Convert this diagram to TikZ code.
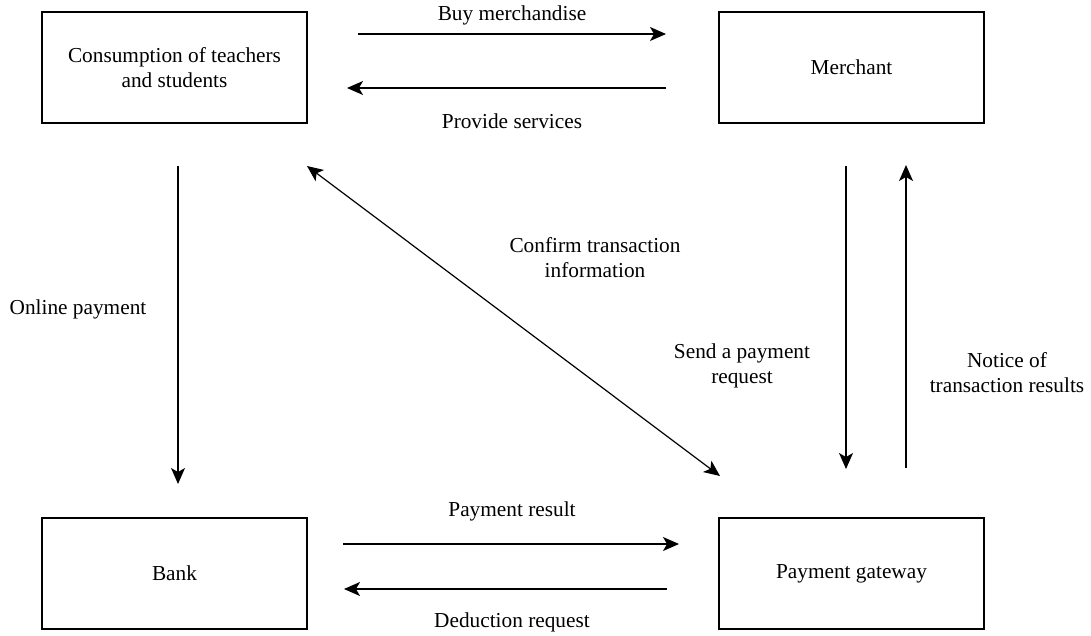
\documentclass[tikz,border=0pt]{standalone}
\usepackage{fontspec}
\setmainfont{Liberation Serif}
\usetikzlibrary{arrows.meta}
\begin{document}
\begin{tikzpicture}[x=1pt,y=-1pt,
  box/.style={draw, line width=1.2pt, minimum width=265pt, minimum height=111pt, inner sep=0pt, align=center, font=\fontsize{21.3}{25}\selectfont},
  lbl/.style={align=center, inner sep=0pt, font=\fontsize{21.3}{25}\selectfont},
  tip/.tip={Stealth[length=16pt,width=14pt,inset=4pt]},
  arr/.style={line width=1.2pt, -tip},
  darr/.style={line width=1.2pt, tip-tip}]
\useasboundingbox (0,0) rectangle (1091,635);
% boxes
\node[box] (c) at (174.5,67.5) {Consumption of teachers\\and students};
\node[box] (m) at (851.5,67.5) {Merchant};
\node[box] (b) at (174.5,573.5) {Bank};
\node[box] (g) at (851.5,573.5) {Payment gateway};
% connector end points
\coordinate (buyS) at (358,34);   \coordinate (buyE) at (666,34);
\coordinate (provS) at (666,88);  \coordinate (provE) at (347,88);
\coordinate (onS) at (178,166);   \coordinate (onE) at (178,484);
\coordinate (diaA) at (307,166);  \coordinate (diaB) at (720,476);
\coordinate (sendS) at (846,166); \coordinate (sendE) at (846,469);
\coordinate (notS) at (906,468);  \coordinate (notE) at (906,165);
\coordinate (prS) at (343,544);   \coordinate (prE) at (679,544);
\coordinate (drS) at (667,589);   \coordinate (drE) at (344,589);
% connectors
\draw[arr] (buyS) -- (buyE);
\draw[arr] (provS) -- (provE);
\draw[arr] (onS) -- (onE);
\draw[darr] (diaA) -- (diaB);
\draw[arr] (sendS) -- (sendE);
\draw[arr] (notS) -- (notE);
\draw[arr] (prS) -- (prE);
\draw[arr] (drS) -- (drE);
% labels
\node[lbl] (lbuy) at (512,15) {Buy merchandise};
\node[lbl] (lprov) at (512,121) {Provide services};
\node[lbl] (lon) at (78,309) {Online payment};
\node[lbl] (lconf) at (595,258) {Confirm transaction\\information};
\node[lbl] (lsend) at (742,366) {Send a payment\\request};
\node[lbl] (lnot) at (1007,373) {Notice of\\transaction results};
\node[lbl] (lpr) at (512,511) {Payment result};
\node[lbl] (ldr) at (512,622) {Deduction request};
\end{tikzpicture}
\end{document}
